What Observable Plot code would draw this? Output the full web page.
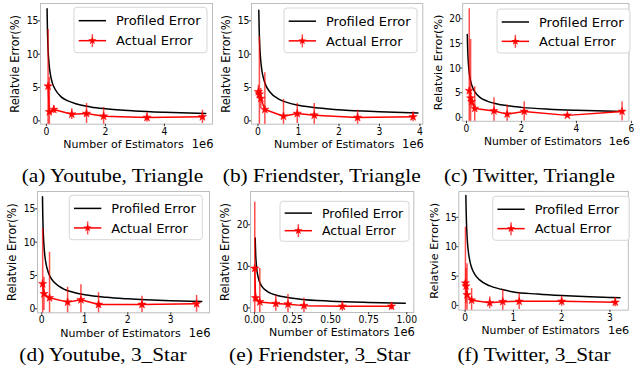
<!DOCTYPE html>
<html><head><meta charset="utf-8">
<script src="https://cdn.jsdelivr.net/npm/d3@7"></script>
<script src="https://cdn.jsdelivr.net/npm/@observablehq/plot@0.6"></script>
<style>
html,body{margin:0;padding:0;background:#fff;overflow:hidden}
#root{position:relative;width:634px;height:377px;overflow:hidden;font-family:"DejaVu Sans",sans-serif}
.panel{position:absolute}
#overlay{position:absolute;left:0;top:0;pointer-events:none}
</style></head>
<body><div id="root"></div>
<script>
// ---------- data (x in millions of estimators, y in %) ----------
// (a) Youtube, Triangle
const ytTriProfX = [0.023, 0.03, 0.04, 0.05, 0.07, 0.1, 0.15, 0.2, 0.3, 0.5, 0.75, 1, 1.5, 2, 3, 4, 5.4];
const ytTriProfY = [16.8, 14.8, 12.8, 11.4, 9.7, 8.1, 6.6, 5.7, 4.7, 3.6, 2.95, 2.56, 2.09, 1.81, 1.48, 1.28, 1.1];
const ytTriActX = [0.057, 0.1, 0.25, 0.86, 1.36, 1.94, 3.41, 5.29];
const ytTriActY = [5.2, 1.35, 1.7, 1.0, 1.1, 0.7, 0.5, 0.6];
const ytTriActErr = [8.5, 5.2, 0.6, 0.8, 1.5, 1.3, 0.7, 1.0];
// (b) Friendster, Triangle
const frTriProfX = [0.02, 0.03, 0.04, 0.05, 0.07, 0.1, 0.15, 0.2, 0.3, 0.5, 0.75, 1, 1.5, 2, 3, 3.95];
const frTriProfY = [16.6, 13.6, 11.75, 10.5, 8.9, 7.4, 6.1, 5.25, 4.3, 3.3, 2.7, 2.35, 1.92, 1.66, 1.36, 1.18];
const frTriActX = [0.01, 0.035, 0.07, 0.17, 0.63, 0.97, 1.39, 2.46, 3.83];
const frTriActY = [4.35, 4.0, 3.35, 1.7, 0.7, 1.1, 0.85, 0.5, 0.6];
const frTriActErr = [1.0, 8.6, 1.5, 5.5, 2.5, 1.5, 1.75, 1.1, 0.75];
// (c) Twitter, Triangle
const twTriProfX = [0.029, 0.04, 0.05, 0.07, 0.1, 0.15, 0.2, 0.3, 0.5, 0.75, 1, 1.5, 2, 3, 4, 5.68];
const twTriProfY = [16.8, 14.3, 12.8, 10.8, 9.0, 7.4, 6.4, 5.2, 4.0, 3.3, 2.86, 2.34, 2.02, 1.65, 1.43, 1.2];
const twTriActX = [0.1, 0.15, 0.19, 0.3, 1.0, 1.48, 2.1, 3.67, 5.66];
const twTriActY = [5.4, 3.9, 3.2, 1.8, 1.3, 0.65, 1.2, 0.4, 1.2];
const twTriActErr = [16.6, 11.9, 1.0, 4.4, 2.65, 1.85, 1.95, 0.3, 1.95];
// (d) Youtube, 3_Star
const ytStarProfX = [0.016, 0.02, 0.03, 0.04, 0.05, 0.07, 0.1, 0.15, 0.2, 0.3, 0.5, 0.75, 1, 1.5, 2, 3, 3.72];
const ytStarProfY = [16.8, 15.0, 12.2, 10.6, 9.5, 8.0, 6.7, 5.5, 4.75, 3.9, 3.0, 2.45, 2.12, 1.73, 1.5, 1.22, 1.1];
const ytStarActX = [0.02, 0.05, 0.18, 0.6, 0.91, 1.32, 2.33, 3.6];
const ytStarActY = [3.75, 2.25, 1.65, 1.0, 1.35, 0.65, 0.65, 0.75];
const ytStarActErr = [8.25, 2.5, 6.85, 2.25, 2.25, 1.75, 1.25, 1.25];
// (e) Friendster, 3_Star
const frStarProfX = [0.0047, 0.0075, 0.01, 0.015, 0.02, 0.03, 0.05, 0.075, 0.1, 0.15, 0.2, 0.3, 0.5, 0.75, 0.99];
const frStarProfY = [16.8, 13.3, 11.5, 9.4, 8.1, 6.6, 5.1, 4.2, 3.6, 3.0, 2.6, 2.1, 1.63, 1.33, 1.15];
const frStarActX = [0.002, 0.007, 0.035, 0.14, 0.22, 0.325, 0.577, 0.9];
const frStarActY = [9.5, 2.4, 1.45, 1.05, 0.9, 0.55, 0.4, 0.4];
const frStarActErr = [15.9, 1.0, 8.0, 1.85, 2.3, 1.85, 1.2, 0.9];
// (f) Twitter, 3_Star
const twStarProfX = [0.016, 0.02, 0.03, 0.04, 0.05, 0.07, 0.1, 0.15, 0.2, 0.3, 0.5, 0.75, 1, 1.5, 2, 3, 3.21];
const twStarProfY = [18.7, 16.8, 13.7, 11.9, 10.6, 9.0, 7.5, 6.1, 5.3, 4.35, 3.37, 2.75, 2.3, 1.94, 1.68, 1.37, 1.33];
const twStarActX = [0.007, 0.02, 0.04, 0.135, 0.51, 0.78, 1.12, 2.0, 3.11];
const twStarActY = [3.8, 3.3, 1.8, 0.9, 0.45, 0.65, 0.7, 0.7, 0.55];
const twStarActErr = [9.5, 3.0, 5.3, 2.0, 1.0, 2.0, 1.4, 0.85, 0.75];

// tick values
const ticksX_a = [0, 2, 4], ticksX_b = [0, 1, 2, 3, 4], ticksX_c = [0, 2, 4, 6];
const ticksX_d = [0, 1, 2, 3], ticksX_e = [0, 0.25, 0.5, 0.75, 1], ticksX_f = [0, 1, 2, 3];
const ticksY_std = [0, 5, 10, 15], ticksY_c = [0, 5, 10, 15, 20], ticksY_e = [0, 10, 20];

const captions = ["(a) Youtube, Triangle", "(b) Friendster, Triangle", "(c) Twitter, Triangle",
                  "(d) Youtube, 3_Star", "(e) Friendster, 3_Star", "(f) Twitter, 3_Star"];
const seriesNames = ["Profiled Error", "Actual Error"];
const xLabel = "Number of Estimators", yLabel = "Relatvie Error(%)", xOffsetText = "1e6";

// ---------- layout ----------
const fmtInt = d3.format("d"), fmt2 = d3.format(".2f");
const panels = [
  {profX: ytTriProfX, profY: ytTriProfY, actX: ytTriActX, actY: ytTriActY, actErr: ytTriActErr,
   xDomain: [-0.2, 5.63], yDomain: [-0.5, 17.6], xTicks: ticksX_a, yTicks: ticksY_std, xFmt: fmtInt,
   frame: [40, 3.3, 212, 124], legend: [74, 7.3, 133, 45.4, 13], cap: [112.5, 182]},
  {profX: frTriProfX, profY: frTriProfY, actX: frTriActX, actY: frTriActY, actErr: frTriActErr,
   xDomain: [-0.16, 4.07], yDomain: [-0.5, 17.6], xTicks: ticksX_b, yTicks: ticksY_std, xFmt: fmtInt,
   frame: [250.7, 3.3, 422, 124], legend: [284, 8, 133, 44.7, 13], cap: [321.7, 182]},
  {profX: twTriProfX, profY: twTriProfY, actX: twTriActX, actY: twTriActY, actErr: twTriActErr,
   xDomain: [-0.14, 5.91], yDomain: [-0.8, 23.1], xTicks: ticksX_c, yTicks: ticksY_c, xFmt: fmtInt,
   frame: [462.7, 3.3, 633, 124], legend: [497, 9, 133, 44, 13], cap: [529.5, 182]},
  {profX: ytStarProfX, profY: ytStarProfY, actX: ytStarActX, actY: ytStarActY, actErr: ytStarActErr,
   xDomain: [-0.1, 3.9], yDomain: [-0.6, 17.6], xTicks: ticksX_d, yTicks: ticksY_std, xFmt: fmtInt,
   frame: [37.3, 190.7, 209.3, 312], legend: [69.3, 195.3, 133, 44.4, 13], cap: [103, 361]},
  {profX: frStarProfX, profY: frStarProfY, actX: frStarActX, actY: frStarActY, actErr: frStarActErr,
   xDomain: [-0.026, 1.046], yDomain: [-1.1, 28], xTicks: ticksX_e, yTicks: ticksY_e, xFmt: fmt2,
   frame: [250, 191, 413.3, 312], legend: [280, 201.3, 129, 40, 12.5], cap: [319.7, 361]},
  {profX: twStarProfX, profY: twStarProfY, actX: twStarActX, actY: twStarActY, actErr: twStarActErr,
   xDomain: [-0.13, 3.38], yDomain: [-0.8, 19.4], xTicks: ticksX_f, yTicks: ticksY_std, xFmt: fmtInt,
   frame: [459.3, 191, 632, 312], legend: [492.7, 196.3, 136.6, 44, 13], cap: [534, 361]}
];

const root = document.getElementById("root");
const RED = "#ff0000";

panels.forEach((p, k) => {
  const ml = 36, mr = 6, mt = 3, mb = 30;
  const [fl, ft, fr, fb] = p.frame;
  const W = (fr - fl) + ml + mr, H = (fb - ft) + mt + mb;
  const prof = p.profX.map((x, i) => ({x, y: p.profY[i]}));
  const act = p.actX.map((x, i) => ({x, y: p.actY[i], lo: p.actY[i] - p.actErr[i], hi: p.actY[i] + p.actErr[i]}));
  const chart = Plot.plot({
    width: W, height: H,
    marginLeft: ml, marginRight: mr, marginTop: mt, marginBottom: mb,
    style: {fontFamily: "'DejaVu Sans', sans-serif", fontSize: "11.3px", color: "#000", background: "transparent", overflow: "visible"},
    x: {domain: p.xDomain},
    y: {domain: p.yDomain},
    marks: [
      Plot.frame({stroke: "#bdbdbd", strokeWidth: 1}),
      Plot.axisX({ticks: p.xTicks, tickFormat: p.xFmt, tickSize: 2.5, tickPadding: 0, label: null, stroke: "#333"}),
      Plot.axisY({ticks: p.yTicks, tickFormat: fmtInt, tickSize: 2, tickPadding: 0, label: null, stroke: "#333"}),
      Plot.text([xLabel], {text: d => d, frameAnchor: "bottom", lineAnchor: "bottom", dy: 24, dx: -3, fontSize: 11}),
      Plot.text([xOffsetText], {text: d => d, frameAnchor: "bottom-right", textAnchor: "end", lineAnchor: "bottom", dy: 24, dx: 1, fontSize: 11.5}),
      Plot.text([yLabel], {text: d => d, frameAnchor: "left", textAnchor: "middle", lineAnchor: "middle", rotate: -90, dx: -25, fontSize: 11.5}),
      Plot.line(prof, {x: "x", y: "y", stroke: "#000", strokeWidth: 1.5, curve: "monotone-x"}),
      Plot.ruleX(act, {x: "x", y1: "lo", y2: "hi", stroke: RED, strokeOpacity: 0.7, strokeWidth: 1.5, clip: true}),
      Plot.line(act, {x: "x", y: "y", stroke: RED, strokeWidth: 1.5}),
      Plot.dot(act, {x: "x", y: "y", symbol: "star", r: 2.6, fill: RED, stroke: RED, strokeWidth: 0.5})
    ]
  });
  // matplotlib-like narrow tick labels (the reference figure is horizontally squeezed)
  chart.querySelectorAll('g[aria-label="x-axis tick label"] text, g[aria-label="y-axis tick label"] text').forEach(t => {
    t.setAttribute("transform", (t.getAttribute("transform") || "") + " scale(0.82,1)");
  });
  const div = document.createElement("div");
  div.className = "panel";
  div.style.left = (fl - ml) + "px";
  div.style.top = (ft - mt) + "px";
  div.appendChild(chart);
  root.appendChild(div);
});

// overlay: legends + captions
const svg = d3.select(root).append("svg").attr("id", "overlay").attr("width", 634).attr("height", 377);
panels.forEach((p, k) => {
  const [lx, ly, lw, lh, fs] = p.legend;
  const g = svg.append("g").attr("transform", `translate(${lx},${ly})`);
  g.append("rect").attr("width", lw).attr("height", lh).attr("rx", 3)
    .attr("fill", "#fff").attr("fill-opacity", 0.85).attr("stroke", "#d6d6d6").attr("stroke-width", 1);
  const r1 = lh * 0.295, r2 = lh * 0.735;
  g.append("line").attr("x1", 4.7).attr("x2", 32).attr("y1", r1).attr("y2", r1).attr("stroke", "#000").attr("stroke-width", 1.5);
  g.append("line").attr("x1", 4.7).attr("x2", 32).attr("y1", r2).attr("y2", r2).attr("stroke", RED).attr("stroke-width", 1.5);
  g.append("line").attr("x1", 18.35).attr("x2", 18.35).attr("y1", r2 - 6.5).attr("y2", r2 + 6.5).attr("stroke", RED).attr("stroke-opacity", 0.7).attr("stroke-width", 1.5);
  g.append("path").attr("d", d3.symbol(d3.symbolStar, Math.PI * 2.6 * 2.6)()).attr("transform", `translate(18.35,${r2})`).attr("fill", RED);
  [r1, r2].forEach((ry, i) => {
    g.append("text").attr("x", 42).attr("y", ry).attr("dy", "0.36em").attr("font-size", fs)
      .attr("font-family", "'DejaVu Sans', sans-serif").attr("fill", "#000").text(seriesNames[i]);
  });
  const [cx, cb] = p.cap;
  svg.append("text").attr("transform", `translate(${cx},${cb}) scale(1.2,1)`).attr("text-anchor", "middle")
    .attr("font-family", "'Liberation Serif', 'Times New Roman', serif").attr("font-size", 17.8).attr("fill", "#000")
    .text(captions[k]);
});
</script>
</body></html>
